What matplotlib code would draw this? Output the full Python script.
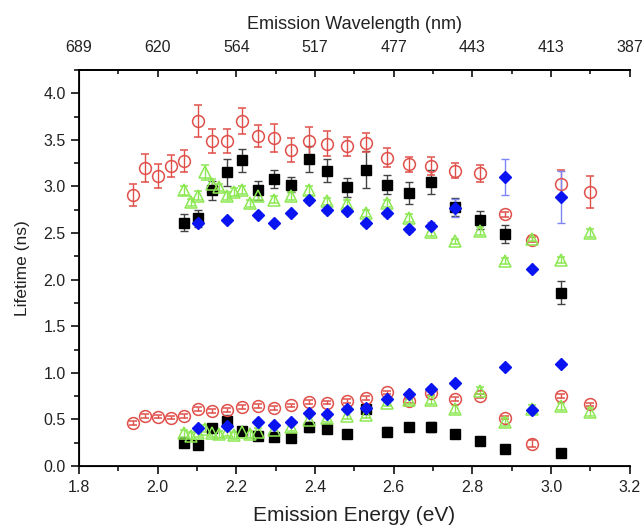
import matplotlib
matplotlib.use("Agg")
import matplotlib.pyplot as plt
from matplotlib.ticker import MultipleLocator, FixedLocator, FixedFormatter

plt.rcParams['font.family'] = ['Liberation Sans', 'DejaVu Sans']

# ---- data (emission wavelength in nm -> energy in eV) ----
red_wl = [640, 630, 620, 610, 600, 590, 580, 570, 560, 550, 540, 530, 520,
          510, 500, 490, 480, 470, 460, 450, 440, 430, 420, 410, 400]
red_hi = [2.91, 3.20, 3.11, 3.22, 3.27, 3.70, 3.49, 3.49, 3.70, 3.54, 3.52, 3.39, 3.49,
          3.46, 3.43, 3.47, 3.31, 3.24, 3.22, 3.17, 3.14, 2.70, 2.43, 3.03, 2.94]
red_hi_err = [0.12, 0.15, 0.13, 0.12, 0.12, 0.17, 0.13, 0.13, 0.14, 0.12, 0.15, 0.13, 0.15,
              0.13, 0.10, 0.10, 0.10, 0.08, 0.10, 0.08, 0.09, 0.03, 0.03, 0.15, 0.17]
red_lo = [0.46, 0.54, 0.53, 0.52, 0.54, 0.61, 0.59, 0.60, 0.63, 0.64, 0.62, 0.65, 0.69,
          0.68, 0.70, 0.73, 0.79, 0.70, 0.78, 0.72, 0.75, 0.52, 0.24, 0.75, 0.66]
red_lo_err = [0.02] * 22 + [0.04, 0.02, 0.02]

black_wl = [600, 590, 580, 570, 560, 550, 540, 530, 520, 510, 500, 490, 480,
            470, 460, 450, 440, 430, 410]
black_hi = [2.61, 2.66, 2.96, 3.15, 3.28, 2.96, 3.08, 3.02, 3.29, 3.17, 2.99, 3.18, 3.02,
            2.93, 3.05, 2.78, 2.64, 2.49, 1.86]
black_hi_err = [0.09, 0.09, 0.10, 0.15, 0.12, 0.10, 0.10, 0.08, 0.14, 0.12, 0.10, 0.20, 0.10,
                0.12, 0.13, 0.10, 0.10, 0.10, 0.12]
black_lo = [0.25, 0.23, 0.41, 0.48, 0.38, 0.32, 0.31, 0.30, 0.42, 0.40, 0.34, 0.61, 0.37,
            0.42, 0.42, 0.34, 0.27, 0.18, 0.14]
black_lo_err = [0.03, 0.03, 0.04, 0.07, 0.04, 0.03, 0.03, 0.03, 0.05, 0.05, 0.03, 0.03, 0.05,
                0.04, 0.05, 0.03, 0.02, 0.02, 0.02]

blue_wl = [590, 570, 550, 540, 530, 520, 510, 500, 490, 480, 470, 460, 450, 430, 420, 410]
blue_hi = [2.61, 2.64, 2.69, 2.61, 2.71, 2.85, 2.75, 2.74, 2.61, 2.71, 2.54, 2.58, 2.77,
           3.10, 2.11, 2.89]
blue_hi_err = [0.02, 0.02, 0.02, 0.02, 0.02, 0.03, 0.03, 0.03, 0.03, 0.03, 0.03, 0.04, 0.10,
               0.19, 0.02, 0.28]
blue_lo = [0.41, 0.43, 0.47, 0.44, 0.47, 0.57, 0.56, 0.61, 0.625, 0.72, 0.77, 0.83, 0.89,
           1.06, 0.60, 1.09]
blue_lo_err = [0.02] * 16

green_wl = [600, 595, 590, 585, 580, 575, 570, 565, 560, 555, 550, 540, 530, 520,
            510, 500, 490, 480, 470, 460, 450, 440, 430, 420, 410, 400]
green_hi = [2.96, 2.83, 2.90, 3.15, 3.03, 2.99, 2.90, 2.94, 2.96, 2.82, 2.90, 2.86, 2.90, 2.96,
            2.84, 2.81, 2.71, 2.82, 2.66, 2.51, 2.41, 2.52, 2.20, 2.44, 2.21, 2.50]
green_hi_err = [0.05, 0.04, 0.05, 0.08, 0.05, 0.04, 0.04, 0.04, 0.04, 0.04, 0.04, 0.04, 0.04, 0.05,
                0.04, 0.04, 0.04, 0.04, 0.04, 0.04, 0.03, 0.04, 0.03, 0.03, 0.03, 0.04]
green_lo = [0.35, 0.32, 0.35, 0.40, 0.35, 0.34, 0.36, 0.33, 0.36, 0.34, 0.37, 0.39, 0.42, 0.49,
            0.51, 0.54, 0.55, 0.68, 0.71, 0.71, 0.61, 0.81, 0.47, 0.61, 0.64, 0.58]
green_lo_err = [0.04] * 26

energy_ticks = [1.8, 2.0, 2.2, 2.4, 2.6, 2.8, 3.0, 3.2]
wavelength_labels = ['689', '620', '564', '517', '477', '443', '413', '387']

HC = 1240.0


def ev(wl):
    return [HC / w for w in wl]


RED = '#E0504A'
BLACK = '#000000'
BLUE = '#0A14F0'
GREEN = '#8CE852'

fig = plt.figure(figsize=(6.44, 5.25), dpi=100)
ax = fig.add_axes([0.1227, 0.1124, 0.8553, 0.7543])

common = dict(linestyle='none', capsize=3, elinewidth=1.0, capthick=1.0)

for y, e in [(black_hi, black_hi_err), (black_lo, black_lo_err)]:
    ax.errorbar(ev(black_wl), y, yerr=e, marker='s', ms=6.5, mfc=BLACK, mec=BLACK,
                color='#333333', ecolor='#444444', **common)
for y, e in [(red_hi, red_hi_err), (red_lo, red_lo_err)]:
    ax.errorbar(ev(red_wl), y, yerr=e, marker='o', ms=8.5, mfc='none', mec=RED, mew=1.1,
                ecolor=RED, color=RED, **common)
for y, e in [(green_hi, green_hi_err), (green_lo, green_lo_err)]:
    ax.errorbar(ev(green_wl), y, yerr=e, marker='^', ms=8.5, mfc='none', mec=GREEN, mew=1.1,
                ecolor=GREEN, color=GREEN, **common)
for y, e in [(blue_hi, blue_hi_err), (blue_lo, blue_lo_err)]:
    ax.errorbar(ev(blue_wl), y, yerr=e, marker='D', ms=6.5, mfc=BLUE, mec=BLUE,
                ecolor='#7C86F5', color=BLUE, **common)

ax.set_xlim(1.8, 3.2)
ax.set_ylim(0, 4.25)
ax.xaxis.set_major_locator(FixedLocator(energy_ticks))
ax.xaxis.set_minor_locator(MultipleLocator(0.1))
ax.yaxis.set_major_locator(MultipleLocator(0.5))
ax.yaxis.set_minor_locator(MultipleLocator(0.25))
ax.xaxis.set_major_formatter(matplotlib.ticker.FormatStrFormatter('%.1f'))
ax.yaxis.set_major_formatter(matplotlib.ticker.FormatStrFormatter('%.1f'))

ax.spines['right'].set_visible(False)
for s in ['left', 'bottom', 'top']:
    ax.spines[s].set_linewidth(1.3)

ax.tick_params(axis='both', which='major', direction='out', length=6, width=1.3,
               labelsize=11.5, colors='#222222')
ax.tick_params(axis='both', which='minor', direction='out', length=3.5, width=1.1)
ax.tick_params(axis='x', pad=4)

ax.set_xlabel('Emission Energy (eV)', fontsize=15, labelpad=8, color='#222222')
ax.set_ylabel('Lifetime (ns)', fontsize=12.5, labelpad=10, color='#222222')

top = ax.twiny()
top.set_xlim(ax.get_xlim())
top.xaxis.set_major_locator(FixedLocator(energy_ticks))
top.xaxis.set_major_formatter(FixedFormatter(wavelength_labels))
top.xaxis.set_minor_locator(MultipleLocator(0.1))
top.tick_params(axis='x', which='major', direction='in', length=5, width=1.3,
                labelsize=11.5, colors='#222222', pad=11)
top.tick_params(axis='x', which='minor', direction='in', length=3, width=1.1)
top.spines['right'].set_visible(False)
top.spines['top'].set_linewidth(1.3)
top.set_xlabel('Emission Wavelength (nm)', fontsize=13, labelpad=8, color='#222222')

fig.savefig('out.png', dpi=100)
